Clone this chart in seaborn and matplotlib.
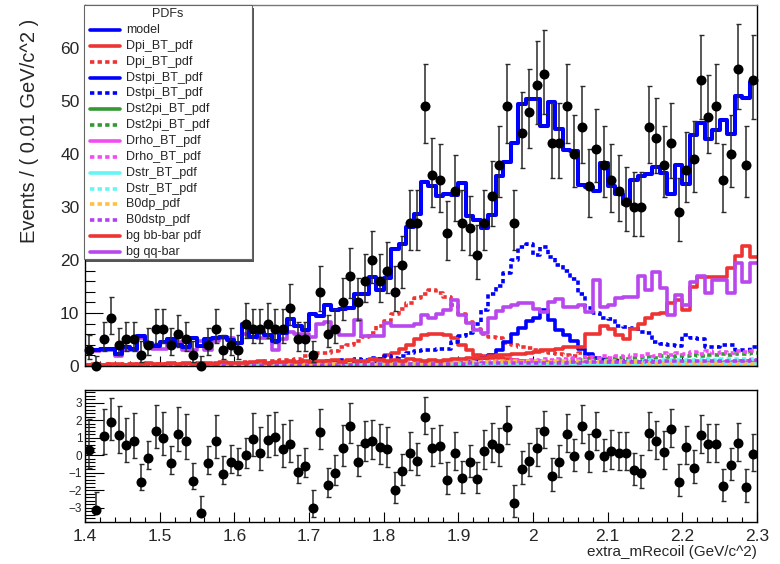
import numpy as np
import matplotlib
matplotlib.use("Agg")
import matplotlib.pyplot as plt
from matplotlib.patches import Rectangle
from matplotlib.lines import Line2D
import seaborn as sns

# binning of extra_mRecoil, 0.01 GeV/c^2 per bin
x_lo, x_hi, n_bins = 1.4, 2.3, 90

data = [3, 0, 5, 9, 4, 5, 5, 2, 4, 7,
        7, 4, 6, 5, 2, 0, 4, 7, 3, 4,
        3, 8, 7, 7, 8, 7, 7, 11, 5, 5,
        2, 14, 6, 7, 12, 17, 12, 16, 20, 16,
        18, 14, 19, 27, 27, 49, 36, 35, 25, 33,
        27, 26, 21, 27, 32, 38, 49, 27, 44, 48,
        53, 55, 42, 42, 49, 40, 45, 34, 41, 38,
        35, 33, 31, 30, 30, 45, 43, 38, 42, 29,
        37, 39, 54, 47, 49, 35, 40, 56, 38, 54]

pulls = [0.3, -3.1, 1.1, 1.9, 1.15, 0.6, 0.85, -1.5, -0.15, 1.4,
         1.0, -0.45, 1.25, 0.8, -1.45, -3.3, -0.45, 0.85, -1.05, -0.4,
         -0.55, 0.0, 0.95, 0.15, 0.9, 1.05, 0.35, 0.65, -0.95, -0.6,
         -3.0, 1.35, -1.7, -1.0, 0.4, 1.7, -0.4, 0.7, 0.8, 0.5,
         0.35, -1.95, -0.9, 0.15, -0.3, 2.2, 0.4, 0.55, -1.4, 0.15,
         -1.3, -0.4, -1.35, 0.25, 0.65, 0.4, 1.65, -2.7, -0.75, -0.3,
         0.4, 1.4, -1.15, -0.4, 1.2, -0.05, 1.7, 0.05, 1.3, -0.05,
         0.25, 0.15, 0.15, -0.85, -1.0, 1.3, 0.8, 0.2, 1.5, -1.5,
         0.5, -0.7, 1.15, 0.65, 0.65, -1.75, -0.55, 0.7, -1.8, 0.1]

model = [2.7, 3.0, 3.2, 3.3, 2.3, 3.5, 3.3, 5.6, 4.4, 3.8,
         4.6, 5.0, 4.0, 3.5, 5.2, 3.8, 5.0, 5.2, 5.5, 4.9,
         4.4, 8.0, 5.5, 6.5, 5.8, 4.8, 6.2, 8.9, 7.6, 6.8,
         9.8, 9.5, 11.5, 10.5, 10.8, 11.0, 13.5, 13.5, 16.8, 14.3,
         16.6, 22.0, 23.0, 26.3, 28.7, 34.7, 34.0, 32.0, 32.5, 32.3,
         34.5, 28.3, 27.5, 26.0, 28.5, 35.8, 38.5, 42.0, 49.5, 50.3,
         50.3, 45.2, 49.8, 44.8, 40.8, 40.5, 34.2, 33.8, 33.0, 38.3,
         34.0, 32.5, 30.5, 35.0, 35.8, 36.3, 37.5, 36.5, 32.5, 38.0,
         34.3, 43.6, 45.8, 42.8, 44.6, 46.5, 43.8, 51.0, 50.5, 53.5]

dpi_s = [0.1, 0.1, 0.1, 0.1, 0.1, 0.1, 0.1, 0.1, 0.1, 0.1,
         0.1, 0.1, 0.1, 0.1, 0.1, 0.1, 0.2, 0.1, 0.2, 0.2,
         0.2, 0.2, 0.2, 0.2, 0.3, 0.2, 0.3, 0.3, 0.3, 0.4,
         0.3, 0.4, 0.4, 0.5, 0.5, 0.6, 0.7, 0.8, 1.0, 1.3,
         2.0, 2.5, 3.2, 4.0, 5.0, 5.8, 6.1, 6.0, 5.8, 5.3,
         4.0, 3.0, 2.0, 1.8, 1.6, 1.5, 1.4, 1.2, 1.0, 0.9,
         0.8, 0.8, 0.7, 0.7, 0.6, 0.6, 0.5, 0.5, 0.5, 0.4,
         0.4, 0.4, 0.4, 0.3, 0.3, 0.3, 0.3, 0.3, 0.3, 0.2,
         0.2, 0.2, 0.2, 0.2, 0.2, 0.2, 0.2, 0.2, 0.2, 0.2]

dpi_d = [0.2, 0.2, 0.2, 0.3, 0.2, 0.3, 0.3, 0.2, 0.3, 0.3,
         0.3, 0.4, 0.3, 0.4, 0.4, 0.5, 0.4, 0.5, 0.6, 0.5,
         0.6, 0.7, 0.6, 0.8, 1.0, 0.9, 1.2, 1.1, 1.4, 1.8,
         2.1, 2.5, 2.4, 2.9, 3.5, 4.0, 4.7, 5.5, 6.2, 7.5,
         8.5, 9.8, 10.8, 11.8, 12.8, 13.5, 14.3, 13.8, 13.0, 11.5,
         9.8, 8.3, 7.0, 6.0, 5.5, 5.2, 4.4, 4.0, 3.6, 3.4,
         3.0, 2.8, 2.5, 2.2, 2.0, 1.8, 2.4, 1.5, 1.6, 1.3,
         1.0, 1.1, 0.9, 0.8, 0.9, 0.7, 0.6, 0.7, 0.6, 0.5,
         0.5, 0.4, 0.5, 0.4, 0.3, 0.4, 0.3, 0.3, 0.3, 0.3]

dstpi_s = [0.1, 0.1, 0.1, 0.1, 0.1, 0.1, 0.1, 0.1, 0.1, 0.1,
           0.1, 0.1, 0.1, 0.1, 0.1, 0.1, 0.1, 0.1, 0.1, 0.1,
           0.1, 0.1, 0.1, 0.1, 0.1, 0.1, 0.1, 0.2, 0.1, 0.2,
           0.2, 0.2, 0.2, 0.2, 0.2, 0.2, 0.3, 0.2, 0.3, 0.3,
           0.3, 0.3, 0.3, 0.4, 0.3, 0.4, 0.4, 0.4, 0.5, 0.5,
           0.6, 0.8, 1.0, 1.5, 2.0, 3.0, 4.5, 6.1, 7.2, 8.5,
           9.0, 10.5, 8.6, 6.8, 5.8, 4.8, 3.2, 2.2, 1.5, 1.2,
           1.0, 0.9, 0.8, 0.8, 0.7, 0.7, 0.7, 0.6, 0.6, 0.6,
           0.6, 0.5, 0.5, 0.5, 0.5, 0.5, 0.5, 0.4, 0.4, 0.4]

dstpi_d = [0.1, 0.1, 0.1, 0.1, 0.1, 0.1, 0.1, 0.2, 0.1, 0.2,
           0.2, 0.2, 0.2, 0.3, 0.2, 0.3, 0.3, 0.3, 0.3, 0.4,
           0.4, 0.4, 0.5, 0.4, 0.5, 0.5, 0.6, 0.6, 0.7, 0.7,
           0.9, 0.8, 1.0, 0.9, 1.2, 1.0, 1.3, 1.2, 1.5, 1.4,
           1.8, 1.6, 1.9, 2.4, 2.8, 3.0, 3.0, 3.3, 3.2, 4.5,
           5.6, 6.2, 8.0, 10.5, 13.5, 15.0, 17.5, 20.0, 22.5, 23.0,
           21.0, 22.5, 20.5, 19.0, 18.0, 16.5, 13.5, 11.0, 10.0, 9.0,
           8.8, 7.6, 7.4, 7.2, 6.4, 6.2, 4.5, 4.2, 4.0, 3.8,
           5.8, 5.2, 5.0, 3.6, 3.6, 3.9, 3.9, 3.0, 3.0, 3.6]

dst2pi_s = [0.05, 0.05, 0.05, 0.06, 0.05, 0.06, 0.06, 0.07, 0.06, 0.07,
            0.07, 0.08, 0.07, 0.08, 0.09, 0.08, 0.09, 0.1, 0.09, 0.1,
            0.1, 0.11, 0.12, 0.11, 0.12, 0.13, 0.12, 0.14, 0.13, 0.15,
            0.14, 0.16, 0.15, 0.17, 0.16, 0.18, 0.19, 0.18, 0.2, 0.21,
            0.2, 0.22, 0.23, 0.22, 0.25, 0.24, 0.26, 0.27, 0.28, 0.27,
            0.3, 0.31, 0.3, 0.33, 0.34, 0.33, 0.36, 0.37, 0.38, 0.4,
            0.41, 0.42, 0.44, 0.43, 0.46, 0.48, 0.47, 0.5, 0.52, 0.53,
            0.55, 0.57, 0.56, 0.6, 0.62, 0.61, 0.65, 0.67, 0.68, 0.7,
            0.72, 0.75, 0.74, 0.78, 0.8, 0.82, 0.84, 0.86, 0.88, 0.9]

dst2pi_d = [0.1, 0.1, 0.1, 0.1, 0.1, 0.1, 0.1, 0.1, 0.1, 0.1,
            0.1, 0.1, 0.15, 0.1, 0.15, 0.15, 0.15, 0.15, 0.2, 0.15,
            0.2, 0.2, 0.2, 0.25, 0.2, 0.25, 0.25, 0.3, 0.25, 0.3,
            0.3, 0.3, 0.35, 0.3, 0.35, 0.4, 0.35, 0.4, 0.4, 0.45,
            0.4, 0.5, 0.45, 0.5, 0.55, 0.5, 0.6, 0.55, 0.6, 0.65,
            0.6, 0.7, 0.65, 0.75, 0.7, 0.8, 0.75, 0.85, 0.8, 0.9,
            0.9, 1.0, 0.9, 1.1, 1.0, 1.2, 1.1, 1.3, 1.2, 1.4,
            1.3, 1.5, 1.4, 1.6, 1.5, 1.7, 1.6, 1.8, 1.7, 1.9,
            1.8, 2.0, 1.9, 2.1, 2.0, 2.2, 2.1, 2.3, 2.2, 2.5]

drho_s = [0.1, 0.1, 0.1, 0.1, 0.1, 0.1, 0.1, 0.1, 0.1, 0.1,
          0.1, 0.1, 0.1, 0.1, 0.1, 0.1, 0.1, 0.1, 0.1, 0.1,
          0.1, 0.1, 0.1, 0.1, 0.1, 0.1, 0.1, 0.1, 0.15, 0.1,
          0.15, 0.1, 0.15, 0.15, 0.15, 0.15, 0.15, 0.2, 0.15, 0.2,
          0.2, 0.2, 0.2, 0.2, 0.25, 0.2, 0.25, 0.25, 0.25, 0.3,
          0.25, 0.3, 0.3, 0.3, 0.35, 0.3, 0.35, 0.35, 0.4, 0.35,
          0.4, 0.4, 0.45, 0.4, 0.45, 0.5, 0.45, 0.5, 0.5, 0.55,
          0.5, 0.55, 0.6, 0.55, 0.6, 0.6, 0.65, 0.6, 0.65, 0.7,
          0.65, 0.7, 0.7, 0.75, 0.7, 0.75, 0.8, 0.75, 0.8, 0.8]

drho_d = [0.1, 0.1, 0.1, 0.1, 0.1, 0.1, 0.1, 0.1, 0.15, 0.1,
          0.15, 0.1, 0.15, 0.15, 0.15, 0.2, 0.15, 0.2, 0.2, 0.2,
          0.2, 0.25, 0.2, 0.25, 0.25, 0.3, 0.25, 0.3, 0.3, 0.35,
          0.3, 0.35, 0.35, 0.4, 0.35, 0.4, 0.45, 0.4, 0.45, 0.5,
          0.45, 0.5, 0.55, 0.5, 0.6, 0.55, 0.6, 0.65, 0.6, 0.7,
          0.7, 0.8, 0.75, 0.9, 0.85, 1.0, 0.9, 1.1, 1.0, 1.2,
          1.1, 1.3, 1.2, 1.4, 1.3, 1.5, 1.4, 1.7, 1.5, 1.8,
          1.6, 1.9, 1.7, 2.0, 1.8, 2.2, 1.9, 2.4, 2.1, 2.5,
          2.2, 2.6, 2.3, 2.8, 2.4, 2.7, 2.5, 2.9, 2.6, 2.8]

dstr_s = [0.05, 0.05, 0.05, 0.05, 0.05, 0.05, 0.05, 0.05, 0.05, 0.05,
          0.05, 0.05, 0.05, 0.05, 0.05, 0.06, 0.05, 0.06, 0.06, 0.06,
          0.06, 0.07, 0.06, 0.07, 0.07, 0.07, 0.08, 0.07, 0.08, 0.08,
          0.08, 0.09, 0.08, 0.09, 0.09, 0.1, 0.09, 0.1, 0.1, 0.11,
          0.1, 0.11, 0.11, 0.12, 0.12, 0.12, 0.13, 0.13, 0.13, 0.14,
          0.14, 0.15, 0.15, 0.15, 0.16, 0.16, 0.17, 0.17, 0.18, 0.18,
          0.19, 0.19, 0.2, 0.2, 0.21, 0.21, 0.22, 0.22, 0.23, 0.24,
          0.24, 0.25, 0.26, 0.26, 0.27, 0.28, 0.28, 0.29, 0.3, 0.3,
          0.31, 0.32, 0.33, 0.33, 0.34, 0.35, 0.36, 0.36, 0.37, 0.38]

dstr_d = [0.1, 0.1, 0.1, 0.1, 0.1, 0.1, 0.1, 0.1, 0.1, 0.1,
          0.1, 0.1, 0.1, 0.15, 0.1, 0.15, 0.1, 0.15, 0.15, 0.15,
          0.15, 0.2, 0.15, 0.2, 0.2, 0.2, 0.2, 0.25, 0.2, 0.25,
          0.25, 0.25, 0.3, 0.25, 0.3, 0.3, 0.3, 0.35, 0.3, 0.35,
          0.35, 0.4, 0.35, 0.4, 0.4, 0.45, 0.4, 0.45, 0.45, 0.5,
          0.45, 0.5, 0.5, 0.55, 0.5, 0.6, 0.55, 0.6, 0.6, 0.65,
          0.65, 0.7, 0.65, 0.75, 0.7, 0.8, 0.75, 0.85, 0.8, 0.9,
          0.85, 0.95, 0.9, 1.0, 0.95, 1.05, 1.0, 1.1, 1.05, 1.15,
          1.1, 1.2, 1.15, 1.25, 1.2, 1.3, 1.25, 1.35, 1.3, 1.4]

b0dp = [0.1, 0.1, 0.1, 0.1, 0.1, 0.1, 0.1, 0.1, 0.1, 0.1,
        0.1, 0.15, 0.1, 0.15, 0.15, 0.15, 0.15, 0.2, 0.15, 0.2,
        0.2, 0.2, 0.25, 0.2, 0.25, 0.25, 0.3, 0.25, 0.3, 0.3,
        0.35, 0.3, 0.35, 0.4, 0.35, 0.4, 0.45, 0.4, 0.5, 0.45,
        0.5, 0.55, 0.5, 0.6, 0.55, 0.65, 0.6, 0.7, 0.65, 0.75,
        0.7, 0.8, 0.75, 0.8, 0.75, 0.85, 0.8, 0.85, 0.8, 0.9,
        0.85, 0.9, 0.8, 0.9, 0.85, 0.8, 0.85, 0.75, 0.8, 0.7,
        0.75, 0.7, 0.65, 0.7, 0.6, 0.65, 0.6, 0.55, 0.6, 0.55,
        0.5, 0.55, 0.5, 0.45, 0.5, 0.45, 0.4, 0.45, 0.4, 0.4]

b0dstp = [0.1, 0.1, 0.1, 0.1, 0.1, 0.1, 0.1, 0.1, 0.1, 0.1,
          0.1, 0.1, 0.1, 0.1, 0.1, 0.15, 0.1, 0.15, 0.1, 0.15,
          0.15, 0.15, 0.15, 0.2, 0.15, 0.2, 0.2, 0.2, 0.2, 0.25,
          0.2, 0.25, 0.25, 0.25, 0.3, 0.25, 0.3, 0.3, 0.3, 0.35,
          0.3, 0.35, 0.35, 0.4, 0.35, 0.4, 0.4, 0.45, 0.4, 0.45,
          0.45, 0.5, 0.45, 0.5, 0.5, 0.55, 0.5, 0.55, 0.55, 0.6,
          0.6, 0.65, 0.6, 0.65, 0.65, 0.7, 0.65, 0.7, 0.7, 0.75,
          0.75, 0.8, 0.75, 0.8, 0.8, 0.85, 0.8, 0.85, 0.85, 0.9,
          0.9, 0.95, 0.9, 0.95, 0.95, 1.0, 0.95, 1.0, 1.0, 1.05]

bb_bar = [0.2, 0.3, 0.2, 0.4, 0.3, 0.2, 0.4, 0.3, 0.5, 0.3,
          0.4, 0.5, 0.3, 0.6, 0.4, 0.5, 0.6, 0.4, 0.7, 0.5,
          0.6, 0.5, 0.7, 0.9, 0.6, 0.8, 0.7, 1.0, 0.8, 0.9,
          0.7, 1.0, 0.9, 1.1, 0.8, 1.2, 1.0, 0.9, 1.3, 1.1,
          0.9, 1.2, 1.0, 1.3, 1.1, 1.0, 1.1, 1.0, 1.2, 1.4,
          1.3, 1.5, 1.6, 1.5, 1.8, 2.0, 2.0, 2.2, 2.3, 2.5,
          2.7, 3.0, 3.0, 3.3, 3.5, 3.6, 3.6, 6.1, 6.1, 7.5,
          7.0, 5.8, 5.0, 7.0, 8.0, 9.0, 9.8, 10.0, 11.8, 12.4,
          10.5, 14.9, 16.8, 16.8, 16.8, 16.8, 18.4, 20.8, 22.6, 20.6]

qq_bar = [2.8, 2.8, 3.0, 3.0, 1.8, 3.0, 3.0, 5.3, 4.0, 3.3,
          3.3, 4.6, 4.6, 3.0, 3.0, 4.8, 3.0, 4.8, 5.2, 5.2,
          4.4, 6.0, 6.5, 5.2, 5.2, 3.0, 5.0, 6.5, 6.0, 6.0,
          5.5, 8.0, 8.3, 7.0, 5.8, 5.8, 8.6, 5.6, 5.6, 5.6,
          8.2, 7.5, 7.5, 7.5, 8.0, 9.6, 9.0, 9.8, 10.5, 12.4,
          9.6, 8.2, 6.8, 6.3, 9.0, 10.4, 11.2, 11.5, 11.8, 11.8,
          10.8, 10.2, 12.1, 12.7, 11.1, 11.1, 11.5, 10.2, 16.2, 11.2,
          11.5, 12.8, 13.1, 13.1, 16.9, 14.3, 17.8, 14.7, 9.6, 13.4,
          11.5, 15.9, 16.9, 13.7, 16.2, 16.2, 13.7, 19.4, 15.9, 19.4]

red = "#ee3333"
blue = "#0000ff"
purple = "#b847ee"
solid = "-"
dots = (0, (1.2, 0.9))

# (label, values, colour, style) in the legend order
curves = [
    ("Dpi_BT_pdf", dpi_s, red, solid),
    ("Dpi_BT_pdf", dpi_d, red, dots),
    ("Dstpi_BT_pdf", dstpi_s, blue, solid),
    ("Dstpi_BT_pdf", dstpi_d, blue, dots),
    ("Dst2pi_BT_pdf", dst2pi_s, "#339933", solid),
    ("Dst2pi_BT_pdf", dst2pi_d, "#339933", dots),
    ("Drho_BT_pdf", drho_s, "#f04cf0", solid),
    ("Drho_BT_pdf", drho_d, "#f04cf0", dots),
    ("Dstr_BT_pdf", dstr_s, "#66f5f5", solid),
    ("Dstr_BT_pdf", dstr_d, "#66f5f5", dots),
    ("B0dp_pdf", b0dp, "#ffc040", dots),
    ("B0dstp_pdf", b0dstp, "#b040f0", dots),
    ("bg bb-bar pdf", bb_bar, red, solid),
    ("bg qq-bar", qq_bar, purple, solid),
]

sns.set_theme(style="white")
plt.rcParams["font.family"] = ["Liberation Sans", "DejaVu Sans"]
plt.rcParams["axes.unicode_minus"] = True

edges = np.linspace(x_lo, x_hi, n_bins + 1)
centers = 0.5 * (edges[:-1] + edges[1:])
n = np.array(data, dtype=float)

# Poisson (Garwood-like) asymmetric errors, as RooFit draws them
np1 = n + 1
err_hi = np1 * (1 - 1 / (9 * np1) + 1 / (3 * np.sqrt(np1))) ** 3 - n
with np.errstate(divide="ignore", invalid="ignore"):
    err_lo = np.where(n > 0, n - n * (1 - 1 / (9 * n) - 1 / (3 * np.sqrt(n))) ** 3, 0.0)

fig = plt.figure(figsize=(7.8, 5.64), dpi=100)
ax = fig.add_axes([85 / 780, 1 - 366 / 564, 672 / 780, 361 / 564])
axp = fig.add_axes([85 / 780, 1 - 522 / 564, 672 / 780, 132 / 564])


def step(a, vals, color, ls, lw=2.6, z=2):
    y = np.append(vals, vals[-1])
    sns.lineplot(x=edges, y=y, ax=a, color=color, linewidth=lw,
                 linestyle=ls, drawstyle="steps-post", zorder=z)


step(ax, model, blue, solid, lw=2.9, z=3)
for lab, vals, col, ls in curves:
    step(ax, vals, col, ls, z=2)

ax.errorbar(centers, n, yerr=[err_lo, err_hi], fmt="none", ecolor="#2a2a2a",
            elinewidth=1.1, capsize=1.8, capthick=1.0, zorder=4, clip_on=False)
sns.scatterplot(x=centers, y=n, ax=ax, color="black", s=52, edgecolor="black",
                linewidth=0, zorder=5, clip_on=False)

ax.set_xlim(x_lo, x_hi)
ax.set_ylim(0, 68.1)
ax.set_xlabel("")
ax.set_ylabel("")
ax.set_xticks(np.arange(1.4, 2.31, 0.1))
ax.set_xticks(np.arange(1.4, 2.301, 0.02), minor=True)
ax.set_yticks(np.arange(0, 61, 10))
ax.set_yticks(np.arange(0, 68, 2), minor=True)
ax.tick_params(axis="x", which="both", direction="in", bottom=True, top=False,
               labelbottom=False, color="black")
ax.tick_params(axis="x", which="major", length=7, width=0.8)
ax.tick_params(axis="x", which="minor", length=3.5, width=0.8)
ax.tick_params(axis="y", which="both", direction="in", left=True, right=False,
               color="black", labelsize=12.5, pad=4)
ax.tick_params(axis="y", which="major", length=13, width=0.8)
ax.tick_params(axis="y", which="minor", length=7, width=0.8)
for s in ax.spines.values():
    s.set_color("black")
    s.set_linewidth(1.0)
ax.spines["top"].set_color("#777777")

# pull panel
pull = np.array(pulls)
mask_up = pull > 0
with np.errstate(divide="ignore", invalid="ignore"):
    p_lo = np.where(mask_up, 1.0, err_lo / err_hi)
    p_hi = np.where(mask_up, err_hi / np.where(err_lo > 0, err_lo, 1), 1.0)
axp.errorbar(centers, pull, yerr=[p_lo, p_hi], fmt="none", ecolor="#2a2a2a",
             elinewidth=1.1, capsize=1.8, capthick=1.0, zorder=4)
sns.scatterplot(x=centers, y=pull, ax=axp, color="black", s=52, edgecolor="black",
                linewidth=0, zorder=5)
axp.set_xlim(x_lo, x_hi)
axp.set_ylim(-3.8, 3.74)
axp.set_xlabel("")
axp.set_ylabel("")
axp.set_xticks(np.arange(1.4, 2.31, 0.1))
axp.set_xticklabels(["1.4", "1.5", "1.6", "1.7", "1.8", "1.9", "2", "2.1", "2.2", "2.3"])
axp.set_xticks(np.arange(1.4, 2.301, 0.02), minor=True)
axp.set_yticks(np.arange(-3, 4, 1))
axp.set_yticks(np.arange(-3.8, 3.8, 0.2), minor=True)
axp.tick_params(axis="x", which="both", direction="in", bottom=True, top=False,
                labelsize=12.5, pad=5, color="black")
axp.tick_params(axis="x", which="major", length=7, width=0.8)
axp.tick_params(axis="x", which="minor", length=3.5, width=0.8)
axp.tick_params(axis="y", which="both", direction="in", left=True, right=False,
                labelsize=8.5, pad=2, color="black")
axp.tick_params(axis="y", which="major", length=14, width=0.8)
axp.tick_params(axis="y", which="minor", length=7, width=0.8)
for s in axp.spines.values():
    s.set_color("black")
    s.set_linewidth(1.0)

fig.text(30 / 780, 1 - 131 / 564, "Events / ( 0.01 GeV/c^2 )", rotation=90,
         ha="center", va="center", fontsize=14.5)
fig.text(757 / 780, 1 - 552 / 564, "extra_mRecoil (GeV/c^2)", ha="right",
         va="center", fontsize=11)

# legend box drawn in pixel coordinates on an overlay
ov = fig.add_axes([0, 0, 1, 1], zorder=10)
ov.set_xlim(0, 780)
ov.set_ylim(564, 0)
ov.axis("off")
ov.add_patch(Rectangle((86, 8), 168, 254, facecolor="#555555", edgecolor="none"))
ov.add_patch(Rectangle((84, 5), 168, 254, facecolor="white", edgecolor="#666666", lw=0.8))
ov.text(168, 14, "PDFs", ha="center", va="center", fontsize=9)
entries = [("model", blue, solid)] + [(lab, col, ls) for lab, vals, col, ls in curves]
for k, (lab, col, ls) in enumerate(entries):
    yy = 30 + k * 15.86
    ov.add_line(Line2D([90, 120], [yy, yy], color=col, lw=2.6, linestyle=ls))
    ov.text(126, yy, lab, ha="left", va="center", fontsize=9)

fig.savefig("out.png", dpi=100)
